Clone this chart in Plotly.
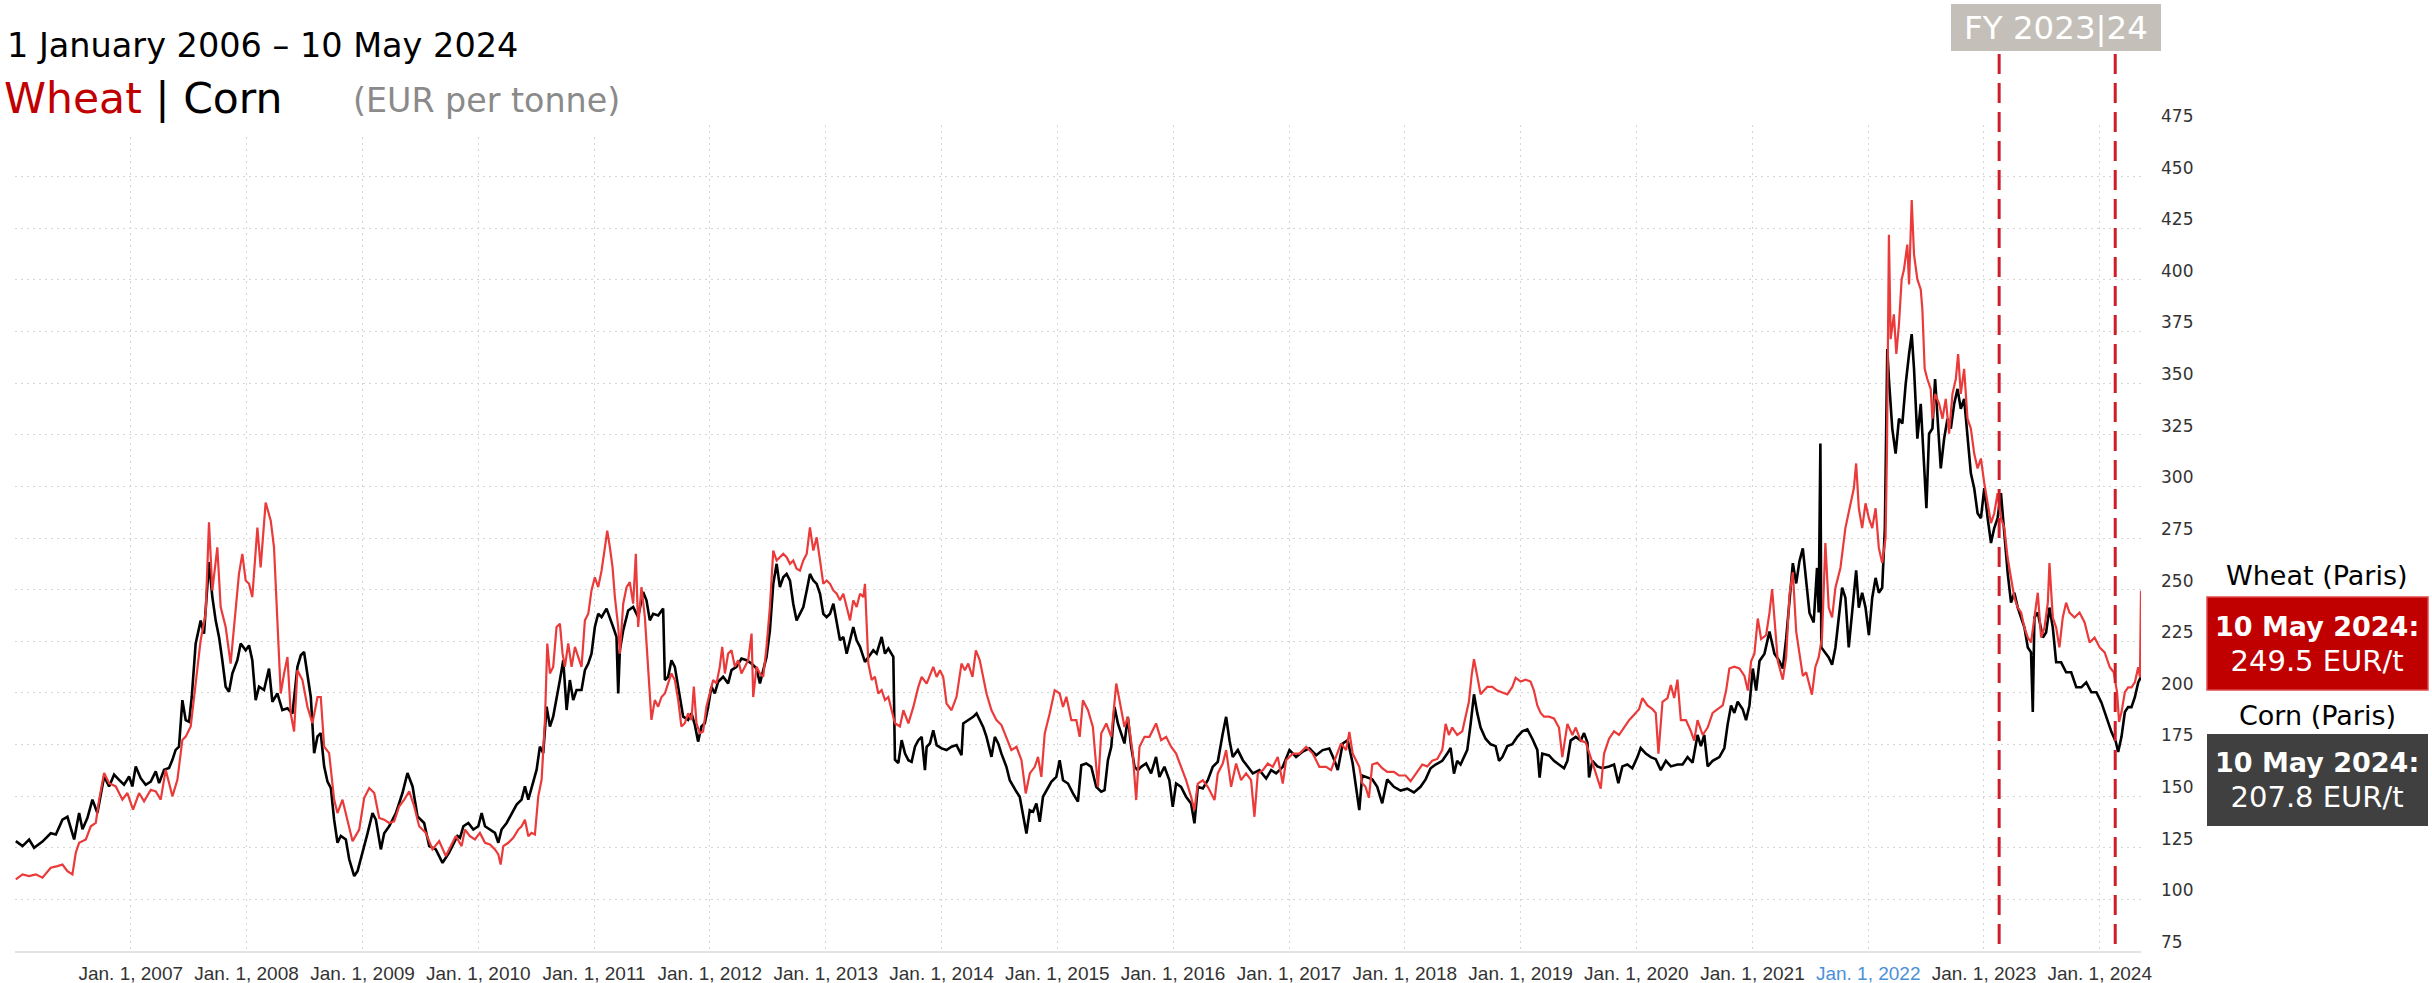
import datetime as dt
import plotly.graph_objects as go

# ---------------- data (decimal years, EUR per tonne) ----------------
corn_t = [
    2006.007, 2006.065, 2006.122, 2006.165, 2006.237, 2006.309, 2006.353, 2006.410, 2006.453, 2006.511, 2006.554, 2006.583, 2006.626, 2006.669, 2006.712, 2006.770, 2006.813, 2006.856, 2006.899, 2006.942, 2006.986,
    2007.014, 2007.043, 2007.086, 2007.129, 2007.173, 2007.216, 2007.245, 2007.288, 2007.331, 2007.360, 2007.388, 2007.417, 2007.446, 2007.475, 2007.504, 2007.527, 2007.561, 2007.604, 2007.633, 2007.676, 2007.705, 2007.734, 2007.763, 2007.791, 2007.820, 2007.849, 2007.878, 2007.921, 2007.950, 2007.993,
    2008.022, 2008.050, 2008.079, 2008.108, 2008.151, 2008.194, 2008.223, 2008.266, 2008.309, 2008.353, 2008.396, 2008.439, 2008.468, 2008.496, 2008.525, 2008.554, 2008.583, 2008.612, 2008.640, 2008.669, 2008.698, 2008.727, 2008.755, 2008.784, 2008.813, 2008.856, 2008.885, 2008.928, 2008.957,
    2009.000, 2009.043, 2009.086, 2009.115, 2009.158, 2009.187, 2009.230, 2009.288, 2009.345, 2009.388, 2009.432, 2009.475, 2009.532, 2009.576, 2009.633, 2009.691, 2009.748, 2009.820, 2009.842, 2009.871, 2009.914, 2009.957,
    2010.000, 2010.029, 2010.058, 2010.101, 2010.144, 2010.173, 2010.201, 2010.245, 2010.288, 2010.331, 2010.374, 2010.403, 2010.432, 2010.475, 2010.504, 2010.532, 2010.561, 2010.590, 2010.619, 2010.647, 2010.676, 2010.705, 2010.734, 2010.763, 2010.791, 2010.820, 2010.849, 2010.892, 2010.921, 2010.950, 2010.978,
    2011.007, 2011.036, 2011.065, 2011.108, 2011.137, 2011.165, 2011.194, 2011.209, 2011.223, 2011.252, 2011.295, 2011.338, 2011.381, 2011.424, 2011.453, 2011.482, 2011.511, 2011.554, 2011.597, 2011.612, 2011.640, 2011.669, 2011.698, 2011.727, 2011.770, 2011.813, 2011.842, 2011.871, 2011.899, 2011.928, 2011.957, 2011.986,
    2012.014, 2012.043, 2012.072, 2012.115, 2012.158, 2012.187, 2012.230, 2012.273, 2012.317, 2012.360, 2012.403, 2012.432, 2012.460, 2012.489, 2012.518, 2012.547, 2012.576, 2012.604, 2012.633, 2012.662, 2012.691, 2012.719, 2012.748, 2012.777, 2012.806, 2012.835, 2012.863, 2012.892, 2012.921, 2012.950, 2012.978,
    2013.007, 2013.036, 2013.065, 2013.094, 2013.122, 2013.151, 2013.180, 2013.209, 2013.237, 2013.266, 2013.295, 2013.338, 2013.367, 2013.410, 2013.439, 2013.482, 2013.511, 2013.540, 2013.583, 2013.597, 2013.626, 2013.655, 2013.684, 2013.713, 2013.741, 2013.770, 2013.799, 2013.828, 2013.856, 2013.871, 2013.899, 2013.928, 2013.957,
    2014.000, 2014.043, 2014.086, 2014.129, 2014.172, 2014.187, 2014.230, 2014.273, 2014.302, 2014.330, 2014.359, 2014.388, 2014.431, 2014.460, 2014.489, 2014.517, 2014.560, 2014.589, 2014.618, 2014.647, 2014.675, 2014.704, 2014.733, 2014.762, 2014.790, 2014.819, 2014.848, 2014.876, 2014.905, 2014.948, 2014.991,
    2015.020, 2015.049, 2015.092, 2015.135, 2015.178, 2015.207, 2015.250, 2015.293, 2015.336, 2015.379, 2015.408, 2015.437, 2015.466, 2015.494, 2015.523, 2015.552, 2015.580, 2015.609, 2015.638, 2015.667, 2015.695, 2015.724, 2015.767, 2015.810, 2015.853, 2015.882, 2015.925, 2015.968, 2015.997,
    2016.026, 2016.069, 2016.112, 2016.155, 2016.184, 2016.213, 2016.256, 2016.299, 2016.342, 2016.385, 2016.428, 2016.457, 2016.486, 2016.514, 2016.558, 2016.601, 2016.644, 2016.687, 2016.744, 2016.802, 2016.845, 2016.888, 2016.945,
    2017.003, 2017.060, 2017.118, 2017.175, 2017.233, 2017.290, 2017.347, 2017.391, 2017.420, 2017.463, 2017.506, 2017.549, 2017.578, 2017.606, 2017.631, 2017.674, 2017.718, 2017.761, 2017.804, 2017.847, 2017.905, 2017.963,
    2018.020, 2018.078, 2018.135, 2018.179, 2018.222, 2018.265, 2018.323, 2018.366, 2018.395, 2018.424, 2018.452, 2018.481, 2018.510, 2018.539, 2018.568, 2018.597, 2018.625, 2018.654, 2018.697, 2018.741, 2018.784, 2018.813, 2018.842, 2018.885, 2018.928, 2018.971,
    2019.014, 2019.058, 2019.101, 2019.144, 2019.164, 2019.187, 2019.245, 2019.288, 2019.331, 2019.375, 2019.404, 2019.432, 2019.476, 2019.519, 2019.548, 2019.577, 2019.591, 2019.620, 2019.663, 2019.706, 2019.764, 2019.807, 2019.844, 2019.879, 2019.922, 2019.965,
    2020.009, 2020.037, 2020.081, 2020.124, 2020.167, 2020.210, 2020.254, 2020.297, 2020.354, 2020.398, 2020.441, 2020.484, 2020.527, 2020.556, 2020.585, 2020.614, 2020.657, 2020.715, 2020.758, 2020.787, 2020.816, 2020.844, 2020.873, 2020.916, 2020.945, 2020.974,
    2021.003, 2021.032, 2021.061, 2021.104, 2021.147, 2021.190, 2021.233, 2021.262, 2021.291, 2021.320, 2021.349, 2021.378, 2021.406, 2021.435, 2021.464, 2021.493, 2021.529, 2021.558, 2021.572, 2021.587, 2021.595, 2021.630, 2021.659, 2021.688, 2021.717, 2021.746, 2021.775, 2021.803, 2021.832, 2021.861, 2021.896, 2021.919, 2021.948, 2021.977,
    2022.006, 2022.035, 2022.064, 2022.092, 2022.121, 2022.144, 2022.165, 2022.179, 2022.208, 2022.237, 2022.266, 2022.295, 2022.324, 2022.353, 2022.376, 2022.396, 2022.425, 2022.454, 2022.483, 2022.503, 2022.526, 2022.555, 2022.578, 2022.598, 2022.627, 2022.656, 2022.685, 2022.714, 2022.743, 2022.772, 2022.800, 2022.829, 2022.858, 2022.887, 2022.916, 2022.945, 2022.974,
    2023.003, 2023.032, 2023.061, 2023.089, 2023.118, 2023.147, 2023.176, 2023.205, 2023.234, 2023.263, 2023.292, 2023.321, 2023.350, 2023.379, 2023.407, 2023.422, 2023.436, 2023.465, 2023.509, 2023.537, 2023.566, 2023.595, 2023.624, 2023.667, 2023.710, 2023.754, 2023.798, 2023.841, 2023.884, 2023.928, 2023.971,
    2024.014, 2024.058, 2024.101, 2024.139, 2024.159, 2024.188, 2024.217, 2024.245, 2024.274, 2024.303, 2024.332, 2024.356,
]
corn_eur = [
    128.2, 125.8, 129.0, 125.0, 128.0, 132.0, 131.4, 138.6, 140.0, 129.0, 141.8, 134.0, 139.5, 148.3, 141.8, 159.5, 154.7, 160.4, 157.9, 155.5, 159.5,
    154.7, 164.4, 158.7, 155.5, 157.0, 162.0, 156.3, 162.8, 163.6, 167.6, 172.4, 174.0, 196.5, 186.8, 186.0, 198.0, 223.9, 235.0, 228.7, 263.3, 246.4, 235.0, 227.0, 215.8, 203.0, 200.5, 209.4, 215.8, 223.9, 220.6,
    223.0, 215.8, 196.5, 203.0, 201.4, 211.8, 195.7, 199.7, 191.7, 192.5, 190.0, 212.6, 218.2, 219.8, 209.4, 198.0, 170.8, 178.9, 180.5, 164.4, 157.0, 153.9, 138.6, 127.4, 130.7, 129.0, 119.4, 111.3, 113.7,
    122.6, 132.0, 141.8, 138.6, 124.2, 132.0, 135.4, 141.8, 151.5, 161.2, 154.7, 140.2, 137.0, 125.8, 124.2, 117.7, 122.6, 130.7, 129.8, 135.4, 137.0, 133.8,
    135.4, 141.8, 135.4, 133.8, 132.2, 127.4, 133.8, 137.0, 141.8, 145.9, 148.3, 154.7, 148.3, 156.3, 162.8, 174.0, 170.8, 193.3, 183.7, 188.5, 196.5, 206.2, 215.8, 191.7, 206.2, 196.5, 201.4, 201.4, 211.0, 214.2, 219.0,
    231.9, 238.3, 236.7, 240.8, 236.7, 231.9, 227.1, 199.7, 220.6, 230.3, 239.9, 241.6, 236.7, 248.8, 244.8, 235.1, 238.3, 237.5, 240.8, 206.2, 207.8, 215.8, 212.6, 203.0, 188.5, 186.9, 190.1, 184.5, 176.4, 183.7, 185.3, 193.3,
    203.0, 199.7, 205.4, 207.8, 204.6, 211.0, 212.6, 216.6, 215.8, 214.2, 211.8, 204.6, 211.0, 217.4, 230.3, 252.8, 262.5, 251.2, 256.0, 257.6, 254.4, 243.2, 235.1, 238.3, 241.6, 249.6, 257.6, 254.4, 252.8, 248.0, 238.3,
    236.7, 238.3, 243.2, 233.5, 225.5, 227.1, 219.0, 225.5, 231.9, 225.5, 222.3, 215.0, 217.4, 220.6, 219.0, 227.1, 219.0, 221.5, 217.4, 167.6, 166.0, 177.1, 170.6, 167.4, 166.6, 173.9, 177.1, 178.7, 162.6, 173.9, 175.5, 181.9, 174.7,
    173.1, 172.3, 173.9, 174.7, 169.8, 185.2, 186.8, 188.4, 190.0, 186.8, 183.5, 178.7, 169.0, 178.7, 175.5, 170.6, 164.2, 157.7, 154.5, 152.1, 149.7, 140.0, 131.9, 143.2, 142.4, 146.4, 137.6, 149.7, 152.9, 156.9, 159.3,
    167.4, 157.7, 156.1, 151.3, 147.3, 165.0, 165.8, 164.2, 154.5, 152.1, 152.9, 167.4, 173.9, 193.2, 185.2, 180.3, 175.5, 188.4, 173.9, 164.2, 162.6, 164.2, 165.8, 161.0, 169.0, 159.3, 164.2, 157.7, 144.8,
    156.1, 154.5, 149.7, 146.4, 136.8, 154.5, 153.7, 157.7, 164.2, 166.6, 180.3, 188.4, 177.1, 169.0, 172.3, 167.4, 164.2, 161.0, 162.6, 158.5, 162.6, 161.0, 164.2,
    172.3, 169.0, 171.6, 173.1, 169.8, 172.3, 173.1, 167.4, 162.6, 175.5, 177.1, 165.8, 154.5, 143.2, 160.0, 159.0, 158.1, 154.5, 146.5, 158.1, 154.5, 152.7,
    153.6, 151.8, 154.5, 158.1, 163.5, 165.3, 167.1, 170.6, 173.3, 160.9, 167.1, 165.3, 168.9, 172.4, 185.0, 199.3, 190.3, 183.2, 177.8, 175.1, 174.2, 167.1, 168.9, 174.2, 175.1, 178.7,
    181.4, 182.3, 177.8, 172.4, 159.0, 170.6, 169.7, 167.1, 165.3, 163.5, 167.1, 176.9, 178.7, 176.9, 180.5, 176.0, 159.0, 167.1, 164.4, 163.5, 164.4, 165.3, 156.3, 164.4, 165.3, 163.5,
    168.9, 173.3, 170.6, 168.9, 167.9, 162.6, 167.1, 164.4, 165.3, 165.3, 168.9, 166.2, 179.6, 174.2, 179.6, 164.4, 167.1, 168.9, 173.3, 185.0, 193.9, 190.3, 195.7, 192.1, 186.8, 193.9,
    211.8, 201.1, 215.4, 219.0, 229.7, 219.0, 215.4, 211.8, 226.1, 244.0, 262.8, 253.0, 263.7, 270.0, 254.8, 238.7, 234.1, 260.5, 238.9, 320.7, 222.0, 219.6, 217.2, 213.6, 222.0, 236.5, 250.9, 246.1, 222.0, 238.9, 259.3, 241.3, 248.5, 241.3,
    228.0, 246.1, 255.7, 248.5, 250.9, 279.8, 366.5, 352.0, 328.0, 315.9, 332.8, 330.4, 349.6, 364.1, 373.7, 356.9, 323.1, 340.0, 308.7, 289.4, 325.5, 328.0, 352.0, 335.2, 308.7, 323.1, 332.8, 328.0, 340.0, 347.2, 337.6, 342.4, 323.1, 306.3, 299.1, 287.0, 284.6,
    299.1, 284.6, 272.6, 279.8, 284.6, 296.7, 275.0, 258.1, 243.7, 248.5, 241.3, 236.5, 231.6, 222.0, 219.6, 190.7, 236.5, 238.9, 226.8, 229.2, 241.3, 231.6, 214.8, 214.8, 210.0, 210.0, 202.7, 202.7, 205.1, 200.3, 200.3,
    195.5, 188.3, 181.1, 176.3, 171.4, 178.7, 190.7, 193.1, 193.1, 197.9, 205.1, 207.8,
]

wheat_t = [
    2006.007, 2006.065, 2006.122, 2006.180, 2006.237, 2006.309, 2006.367, 2006.410, 2006.453, 2006.496, 2006.525, 2006.554, 2006.612, 2006.655, 2006.698, 2006.727, 2006.770, 2006.813, 2006.871, 2006.928, 2006.971,
    2007.020, 2007.072, 2007.115, 2007.173, 2007.216, 2007.259, 2007.302, 2007.360, 2007.403, 2007.446, 2007.475, 2007.518, 2007.561, 2007.604, 2007.647, 2007.676, 2007.705, 2007.748, 2007.777, 2007.820, 2007.863, 2007.906, 2007.935, 2007.964, 2007.993,
    2008.022, 2008.050, 2008.094, 2008.122, 2008.165, 2008.209, 2008.237, 2008.266, 2008.295, 2008.324, 2008.353, 2008.381, 2008.410, 2008.439, 2008.482, 2008.525, 2008.568, 2008.612, 2008.640, 2008.669, 2008.712, 2008.755, 2008.784, 2008.827, 2008.871, 2008.914, 2008.971,
    2009.014, 2009.058, 2009.101, 2009.144, 2009.187, 2009.230, 2009.273, 2009.317, 2009.360, 2009.403, 2009.446, 2009.489, 2009.547, 2009.604, 2009.662, 2009.719, 2009.806, 2009.856, 2009.885, 2009.928, 2009.971,
    2010.014, 2010.058, 2010.101, 2010.144, 2010.173, 2010.193, 2010.216, 2010.259, 2010.302, 2010.345, 2010.374, 2010.403, 2010.432, 2010.460, 2010.489, 2010.518, 2010.547, 2010.576, 2010.596, 2010.619, 2010.647, 2010.676, 2010.705, 2010.728, 2010.748, 2010.777, 2010.806, 2010.835, 2010.863, 2010.892, 2010.921, 2010.950, 2010.978,
    2011.007, 2011.036, 2011.065, 2011.094, 2011.114, 2011.137, 2011.160, 2011.180, 2011.209, 2011.223, 2011.252, 2011.281, 2011.309, 2011.338, 2011.361, 2011.381, 2011.410, 2011.439, 2011.468, 2011.496, 2011.525, 2011.554, 2011.583, 2011.612, 2011.640, 2011.669, 2011.698, 2011.727, 2011.755, 2011.784, 2011.813, 2011.842, 2011.862, 2011.885, 2011.914, 2011.942, 2011.971,
    2012.000, 2012.029, 2012.058, 2012.086, 2012.107, 2012.130, 2012.158, 2012.187, 2012.216, 2012.245, 2012.273, 2012.302, 2012.331, 2012.360, 2012.374, 2012.403, 2012.432, 2012.460, 2012.489, 2012.518, 2012.547, 2012.576, 2012.604, 2012.633, 2012.662, 2012.691, 2012.719, 2012.748, 2012.777, 2012.806, 2012.835, 2012.863, 2012.892, 2012.921, 2012.950, 2012.978,
    2013.007, 2013.036, 2013.065, 2013.094, 2013.122, 2013.151, 2013.180, 2013.209, 2013.237, 2013.266, 2013.295, 2013.324, 2013.338, 2013.367, 2013.396, 2013.424, 2013.453, 2013.482, 2013.511, 2013.540, 2013.568, 2013.597, 2013.640, 2013.670, 2013.713, 2013.756, 2013.799, 2013.828, 2013.871, 2013.928, 2013.957, 2013.986,
    2014.014, 2014.043, 2014.086, 2014.129, 2014.172, 2014.201, 2014.230, 2014.267, 2014.296, 2014.330, 2014.359, 2014.388, 2014.431, 2014.474, 2014.517, 2014.560, 2014.603, 2014.647, 2014.690, 2014.727, 2014.762, 2014.805, 2014.833, 2014.862, 2014.891, 2014.934, 2014.977,
    2015.020, 2015.049, 2015.078, 2015.121, 2015.164, 2015.193, 2015.221, 2015.265, 2015.307, 2015.351, 2015.379, 2015.423, 2015.466, 2015.509, 2015.537, 2015.580, 2015.609, 2015.652, 2015.681, 2015.710, 2015.753, 2015.796, 2015.853, 2015.897, 2015.940, 2015.983,
    2016.026, 2016.069, 2016.112, 2016.155, 2016.184, 2016.213, 2016.256, 2016.299, 2016.357, 2016.385, 2016.428, 2016.457, 2016.500, 2016.543, 2016.586, 2016.629, 2016.672, 2016.701, 2016.730, 2016.773, 2016.816, 2016.859, 2016.902, 2016.945, 2016.974,
    2017.032, 2017.089, 2017.147, 2017.204, 2017.261, 2017.319, 2017.362, 2017.405, 2017.448, 2017.492, 2017.520, 2017.549, 2017.606, 2017.631, 2017.660, 2017.689, 2017.718, 2017.761, 2017.804, 2017.847, 2017.905, 2017.948,
    2018.006, 2018.049, 2018.107, 2018.150, 2018.193, 2018.236, 2018.280, 2018.323, 2018.352, 2018.380, 2018.409, 2018.452, 2018.496, 2018.525, 2018.553, 2018.576, 2018.597, 2018.625, 2018.654, 2018.683, 2018.712, 2018.755, 2018.798, 2018.842, 2018.885, 2018.928, 2018.957,
    2019.000, 2019.043, 2019.086, 2019.115, 2019.144, 2019.173, 2019.202, 2019.245, 2019.288, 2019.331, 2019.360, 2019.404, 2019.447, 2019.476, 2019.519, 2019.562, 2019.605, 2019.649, 2019.692, 2019.721, 2019.764, 2019.807, 2019.850, 2019.893, 2019.937, 2019.980,
    2020.023, 2020.052, 2020.095, 2020.138, 2020.167, 2020.190, 2020.225, 2020.268, 2020.297, 2020.326, 2020.354, 2020.383, 2020.427, 2020.470, 2020.498, 2020.527, 2020.571, 2020.614, 2020.657, 2020.700, 2020.744, 2020.773, 2020.801, 2020.844, 2020.888, 2020.931, 2020.960, 2020.989,
    2021.017, 2021.046, 2021.075, 2021.118, 2021.147, 2021.170, 2021.190, 2021.219, 2021.262, 2021.291, 2021.320, 2021.349, 2021.378, 2021.406, 2021.435, 2021.464, 2021.493, 2021.514, 2021.543, 2021.572, 2021.601, 2021.630, 2021.659, 2021.688, 2021.717, 2021.760, 2021.803, 2021.847, 2021.876, 2021.896, 2021.919, 2021.948, 2021.977,
    2022.006, 2022.035, 2022.064, 2022.092, 2022.121, 2022.150, 2022.162, 2022.179, 2022.194, 2022.222, 2022.243, 2022.266, 2022.289, 2022.309, 2022.338, 2022.353, 2022.376, 2022.396, 2022.425, 2022.454, 2022.468, 2022.488, 2022.511, 2022.540, 2022.555, 2022.578, 2022.613, 2022.642, 2022.670, 2022.699, 2022.728, 2022.757, 2022.777, 2022.800, 2022.829, 2022.858, 2022.887, 2022.916, 2022.945, 2022.974,
    2023.003, 2023.032, 2023.061, 2023.089, 2023.118, 2023.147, 2023.176, 2023.205, 2023.234, 2023.263, 2023.292, 2023.321, 2023.350, 2023.379, 2023.407, 2023.436, 2023.465, 2023.494, 2023.523, 2023.552, 2023.566, 2023.595, 2023.624, 2023.652, 2023.681, 2023.710, 2023.739, 2023.783, 2023.826, 2023.870, 2023.913, 2023.956,
    2024.000, 2024.043, 2024.087, 2024.121, 2024.150, 2024.167, 2024.188, 2024.217, 2024.245, 2024.274, 2024.303, 2024.332, 2024.347, 2024.356,
]
wheat_eur = [
    109.7, 112.1, 111.3, 112.1, 110.5, 115.3, 116.1, 116.9, 113.7, 112.1, 122.6, 127.4, 129.0, 135.4, 137.0, 148.3, 161.2, 156.3, 154.7, 148.3, 151.5,
    143.5, 151.5, 147.5, 153.1, 152.3, 148.3, 162.8, 149.9, 157.9, 177.2, 178.8, 183.7, 206.2, 225.5, 238.3, 282.6, 249.6, 270.5, 241.6, 231.9, 214.2, 238.3, 257.6, 267.3, 254.4,
    252.8, 246.4, 280.1, 260.8, 292.2, 283.4, 270.5, 233.5, 199.7, 209.4, 217.4, 190.1, 181.3, 211.0, 206.2, 193.3, 185.3, 198.0, 198.0, 174.0, 170.8, 148.3, 141.8, 148.3, 138.6, 128.2, 133.8,
    149.1, 153.9, 151.5, 139.4, 138.6, 137.0, 137.8, 145.1, 148.3, 152.3, 145.1, 135.4, 132.2, 124.2, 128.2, 121.0, 130.7, 125.8, 133.8, 130.6, 129.0,
    132.2, 127.4, 126.6, 124.2, 121.8, 116.9, 125.8, 127.4, 129.8, 133.8, 135.4, 138.6, 130.6, 132.2, 131.4, 149.9, 157.9, 186.9, 223.9, 209.4, 212.6, 231.9, 233.5, 219.0, 212.6, 223.9, 212.6, 222.3, 217.4, 212.6, 235.1, 238.3, 249.6,
    256.0, 251.2, 259.2, 270.5, 278.5, 270.5, 260.8, 246.4, 231.9, 219.0, 243.2, 251.2, 253.6, 243.2, 267.3, 231.9, 251.2, 236.7, 212.6, 186.9, 196.5, 193.3, 198.0, 199.7, 204.6, 209.4, 206.2, 196.5, 183.7, 185.3, 190.1, 186.9, 203.0, 185.3, 180.5, 181.3, 193.3,
    199.7, 206.2, 204.6, 212.6, 222.3, 209.4, 219.0, 220.6, 212.6, 215.8, 209.4, 212.6, 215.8, 228.7, 198.0, 212.6, 209.4, 207.8, 222.3, 241.6, 268.9, 264.1, 265.7, 267.3, 265.7, 262.5, 264.1, 260.1, 259.2, 264.1, 267.3, 280.1, 268.9, 275.3, 264.1, 252.8,
    254.4, 252.8, 249.6, 248.0, 244.8, 248.0, 241.6, 235.1, 244.8, 241.6, 248.0, 246.4, 252.8, 214.2, 206.2, 207.8, 199.7, 201.4, 196.5, 198.0, 191.7, 185.3, 183.7, 191.6, 185.2, 193.2, 202.9, 207.7, 204.5, 212.6, 207.7, 211.0,
    207.7, 194.8, 191.6, 198.1, 214.2, 211.0, 214.2, 207.7, 220.6, 215.8, 207.7, 199.7, 191.6, 186.8, 184.4, 178.7, 172.3, 173.9, 167.4, 151.3, 161.0, 164.2, 169.0, 159.3, 180.3, 190.0, 201.3,
    199.7, 193.2, 198.1, 186.8, 186.8, 178.7, 196.4, 191.6, 183.5, 154.5, 180.3, 185.2, 178.7, 204.5, 196.4, 183.5, 188.4, 170.6, 148.1, 173.9, 178.7, 178.7, 185.2, 177.1, 178.7, 173.9,
    170.6, 164.2, 157.7, 149.7, 143.2, 156.1, 157.7, 154.5, 148.1, 161.0, 165.8, 172.3, 154.5, 165.8, 157.7, 161.0, 157.7, 140.0, 161.0, 162.6, 165.8, 164.2, 169.0, 156.1, 167.4,
    170.6, 170.6, 173.9, 170.6, 164.2, 164.2, 162.6, 169.0, 175.5, 172.3, 181.1, 170.6, 164.2, 156.3, 154.5, 149.2, 165.3, 166.2, 163.5, 161.7, 161.7, 160.0,
    160.0, 157.2, 161.7, 165.3, 164.4, 167.1, 168.0, 172.4, 185.0, 179.6, 183.2, 179.6, 181.4, 188.5, 195.7, 208.2, 216.3, 208.2, 199.3, 201.1, 202.9, 202.9, 201.1, 200.2, 199.3, 202.9, 207.3,
    205.5, 206.4, 205.5, 201.1, 193.9, 190.3, 188.5, 188.5, 187.6, 183.2, 168.9, 185.0, 179.6, 183.2, 176.9, 176.0, 168.9, 161.7, 153.6, 170.6, 177.8, 181.4, 179.6, 183.2, 186.8, 189.4,
    192.1, 197.5, 193.9, 192.1, 190.3, 170.6, 195.7, 197.5, 203.8, 197.5, 206.4, 186.8, 186.8, 181.4, 176.9, 186.8, 179.6, 183.2, 190.3, 192.1, 193.9, 201.1, 211.8, 212.7, 211.8, 208.2, 201.1, 215.4,
    219.0, 236.0, 226.1, 227.9, 238.7, 250.3, 236.9, 215.4, 206.4, 217.2, 247.6, 258.4, 229.7, 219.0, 208.2, 210.0, 202.9, 199.1, 212.4, 217.2, 226.8, 272.6, 241.3, 236.5, 250.9, 260.5, 279.8, 291.8, 299.1, 311.1, 289.4, 279.8, 291.8,
    284.6, 279.8, 289.4, 270.2, 262.9, 275.0, 315.9, 421.9, 371.3, 383.3, 364.1, 378.5, 400.2, 405.0, 417.1, 397.8, 438.7, 412.2, 400.2, 395.4, 385.8, 356.9, 352.0, 347.2, 332.8, 344.8, 340.0, 332.8, 342.4, 325.5, 344.8, 352.0, 364.1, 344.8, 356.9, 332.8, 328.0, 315.9, 308.7, 313.5,
    301.5, 291.8, 282.2, 287.0, 296.7, 284.6, 279.8, 265.3, 255.7, 246.1, 241.3, 238.9, 231.6, 226.8, 224.4, 236.5, 248.5, 226.8, 231.6, 243.7, 262.9, 236.5, 231.6, 222.0, 236.5, 243.7, 238.9, 236.5, 238.9, 234.1, 224.4, 226.8,
    222.0, 219.6, 212.4, 210.0, 200.3, 185.9, 190.7, 200.3, 202.7, 202.7, 205.1, 212.4, 207.5, 249.5,
]

tick_years = list(range(2007, 2025))
y_ticks = list(range(75, 476, 25))
fy_lines = ["2023-02-18", "2024-02-19"]
wheat_last = "249.5 EUR/t"
corn_last = "207.8 EUR/t"

assert len(corn_t) == len(corn_eur), (len(corn_t), len(corn_eur))
assert len(wheat_t) == len(wheat_eur), (len(wheat_t), len(wheat_eur))


def to_date(t):
    y = int(t)
    start = dt.datetime(y, 1, 1)
    days = (dt.datetime(y + 1, 1, 1) - start).days
    return start + dt.timedelta(days=(t - y) * days)


# ---------------- geometry helpers ----------------
W, H = 2432, 983
ML, MR, MT, MB = 15, 291, 125, 32
PW, PH = W - ML - MR, H - MT - MB


def px(x):
    return (x - ML) / PW


def py(y):
    return (H - MB - y) / PH


corn_x = [to_date(t) for t in corn_t]
wheat_x = [to_date(t) for t in wheat_t]
x_end = max(corn_x[-1], wheat_x[-1])

fig = go.Figure()
fig.add_trace(go.Scatter(x=corn_x, y=corn_eur, mode="lines", name="Corn",
                         line=dict(color="#000000", width=2.6), hoverinfo="skip"))
fig.add_trace(go.Scatter(x=wheat_x, y=wheat_eur, mode="lines", name="Wheat",
                         line=dict(color="#eb3a3a", width=2.2), hoverinfo="skip"))

tick_text = []
for yr in tick_years:
    lab = f"Jan. 1, {yr}"
    if yr == 2022:
        lab = f'<span style="color:#4a90d9">{lab}</span>'
    tick_text.append(lab)

grid_col = "#d6d6d6"
fig.update_layout(
    width=W, height=H,
    margin=dict(l=ML, r=MR, t=MT, b=MB, autoexpand=False),
    paper_bgcolor="white", plot_bgcolor="white",
    showlegend=False,
    xaxis=dict(
        type="date", range=[dt.datetime(2006, 1, 1), x_end],
        tickmode="array", tickvals=[dt.datetime(y, 1, 1) for y in tick_years], ticktext=tick_text,
        showgrid=True, gridcolor=grid_col, gridwidth=1, griddash="2px,4px",
        showline=True, linecolor="#e2e2e2", linewidth=2,
        ticks="", zeroline=False, automargin=False,
        tickfont=dict(family="Liberation Sans, Arial, sans-serif", size=19, color="#333333"),
        ticklabelstandoff=4,
    ),
    yaxis=dict(
        side="right", range=[75, 475], tickmode="array", tickvals=y_ticks,
        showgrid=True, gridcolor=grid_col, gridwidth=1, griddash="2px,4px",
        zeroline=False, showline=False, ticks="", automargin=False,
        tickfont=dict(family="DejaVu Sans, Verdana, sans-serif", size=17, color="#333333"),
        ticklabelstandoff=19, ticklabelshift=-9,
    ),
)

shapes = [
    # white background behind the title block
    dict(type="rect", xref="paper", yref="paper", x0=px(-5), x1=px(678), y0=py(133), y1=py(-5),
         fillcolor="white", line=dict(width=0), layer="above"),
    # FY label box
    dict(type="rect", xref="paper", yref="paper", x0=px(1951), x1=px(2161), y0=py(51), y1=py(4),
         fillcolor="#c4bfb8", line=dict(width=0)),
    # right-hand value boxes
    dict(type="rect", xref="paper", yref="paper", x0=px(2207), x1=px(2428), y0=py(690), y1=py(597),
         fillcolor="#c00000", line=dict(width=1.5, color="#e04a4a")),
    dict(type="rect", xref="paper", yref="paper", x0=px(2207), x1=px(2428), y0=py(826), y1=py(734),
         fillcolor="#404040", line=dict(width=0)),
]
for d in fy_lines:
    shapes.append(dict(type="line", xref="x", yref="paper", x0=d, x1=d, y0=py(54), y1=0,
                       line=dict(color="#cc1f29", width=3, dash="20px,9px"), layer="above"))
fig.update_layout(shapes=shapes)

FONT = "DejaVu Sans, Verdana, sans-serif"
ann = [
    dict(text="1 January 2006 – 10 May 2024", x=px(5), y=py(45), xanchor="left", yanchor="middle",
         font=dict(family=FONT, size=33.5, color="#000000")),
    dict(text='<span style="color:#c00000">Wheat</span> | Corn', x=px(2), y=py(99), xanchor="left",
         yanchor="middle", font=dict(family=FONT, size=42.5, color="#000000")),
    dict(text="(EUR per tonne)", x=px(351), y=py(101), xanchor="left", yanchor="middle",
         font=dict(family=FONT, size=33.3, color="#8a8a8a")),
    dict(text="FY 2023|24", x=px(2056), y=py(28), xanchor="center", yanchor="middle",
         font=dict(family=FONT, size=32.5, color="#ffffff")),
    dict(text="Wheat (Paris)", x=px(2317), y=py(575), xanchor="center", yanchor="middle",
         font=dict(family=FONT, size=27, color="#000000")),
    dict(text=f'<b>10 May 2024:</b><br><span style="font-size:29px">{wheat_last}</span>',
         x=px(2317), y=py(644), xanchor="center", yanchor="middle",
         font=dict(family=FONT, size=27, color="#ffffff")),
    dict(text="Corn (Paris)", x=px(2317), y=py(715), xanchor="center", yanchor="middle",
         font=dict(family=FONT, size=27, color="#000000")),
    dict(text=f'<b>10 May 2024:</b><br><span style="font-size:29px">{corn_last}</span>',
         x=px(2317), y=py(780), xanchor="center", yanchor="middle",
         font=dict(family=FONT, size=27, color="#ffffff")),
]
for a in ann:
    a.update(xref="paper", yref="paper", showarrow=False)
fig.update_layout(annotations=ann)

fig.write_html("out.html", config={"displayModeBar": False},
               post_script="document.body.style.margin='0';document.body.style.overflow='hidden';")
